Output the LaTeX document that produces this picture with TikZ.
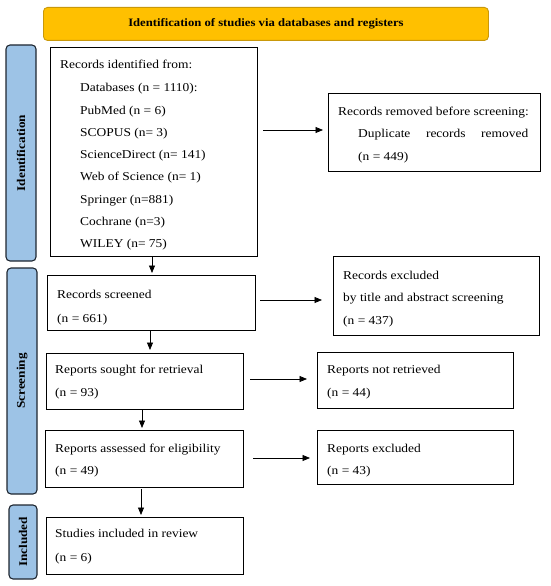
\documentclass[tikz,border=0pt]{standalone}
\usepackage{fontspec}
\setmainfont{Liberation Serif}[FakeStretch=1.12]
\usetikzlibrary{arrows.meta}
\definecolor{gold}{HTML}{FFC000}
\definecolor{goldline}{HTML}{C9980A}
\definecolor{lblue}{HTML}{9DC3E6}
\definecolor{lline}{HTML}{1E2630}
\begin{document}
\begin{tikzpicture}[x=1pt,y=-1pt,
  box/.style={draw=black, line width=0.9pt, inner sep=0pt, outer sep=0pt, anchor=north west},
  txt/.style={inner sep=0pt, anchor=base west, font=\fontsize{12}{14}\selectfont},
  stage/.style={draw=lline, fill=lblue, line width=1.1pt, rounded corners=4pt, inner sep=0pt, outer sep=0pt, anchor=north west, minimum width=30pt},
  stagetxt/.style={rotate=90, font=\bfseries\fontsize{11.8}{13}\selectfont, inner sep=0pt},
  arr/.style={line width=0.8pt, -{Triangle[length=7.5pt,width=6pt]}}]
\useasboundingbox (0,0) rectangle (550,586);

% title
\node[draw=goldline, fill=gold, line width=0.9pt, rounded corners=4pt, anchor=north west, minimum width=445pt, minimum height=33pt, inner sep=0pt] (title) at (43,7) {};
\node[font=\bfseries\fontsize{11.3}{13}\selectfont, inner sep=0pt] (titletxt) at (title.center) {Identification of studies via databases and registers};

% stages
\node[stage, minimum height=216pt] (s1) at (6,45) {};
\node[stagetxt] (s1t) at (s1.center) {Identification};
\node[stage, minimum height=226pt] (s2) at (7,268) {};
\node[stagetxt] (s2t) at (s2.center) {Screening};
\node[stage, minimum height=74pt, minimum width=28pt] (s3) at (9,505) {};
\node[stagetxt] (s3t) at (s3.center) {Included};

% boxes
\node[box, minimum width=207pt, minimum height=209pt] (b1) at (50,47) {};
\node[box, minimum width=212pt, minimum height=78pt] (b2) at (328,93) {};
\node[box, minimum width=208pt, minimum height=55pt] (b3) at (47,275) {};
\node[box, minimum width=206pt, minimum height=79pt] (b4) at (333,256) {};
\node[box, minimum width=197pt, minimum height=56pt] (b5) at (46,353) {};
\node[box, minimum width=196pt, minimum height=56pt] (b6) at (317,352) {};
\node[box, minimum width=198pt, minimum height=57pt] (b7) at (45,430) {};
\node[box, minimum width=196pt, minimum height=54pt] (b8) at (317,430) {};
\node[box, minimum width=197pt, minimum height=57pt] (b9) at (46,517) {};

% texts b1
\node[txt] (t1a) at (60,69) {Records identified from:};
\node[txt] (t1b) at (80,92) {Databases (n = 1110):};
\node[txt] (t1c) at (80,114) {PubMed (n = 6)};
\node[txt] (t1d) at (80,136) {SCOPUS (n= 3)};
\node[txt] (t1e) at (80,158) {ScienceDirect (n= 141)};
\node[txt] (t1f) at (80,180) {Web of Science (n= 1)};
\node[txt] (t1g) at (80,203) {Springer (n=881)};
\node[txt] (t1h) at (80,225) {Cochrane (n=3)};
\node[txt] (t1i) at (80,247) {WILEY (n= 75)};
% b2
\node[txt] (t2a) at (338,115) {Records removed before screening:};
\node[txt] (t2b) at (358,137) {\makebox[170pt][s]{Duplicate\hfill records\hfill removed}};
\node[txt] (t2c) at (358,160) {(n = 449)};
% b3
\node[txt] (t3a) at (57,298) {Records screened};
\node[txt] (t3b) at (57,322) {(n = 661)};
% b4
\node[txt] (t4a) at (343,279) {Records excluded};
\node[txt] (t4b) at (343,301) {by title and abstract screening};
\node[txt] (t4c) at (343,324) {(n = 437)};
% b5
\node[txt] (t5a) at (55,373) {Reports sought for retrieval};
\node[txt] (t5b) at (55,396) {(n = 93)};
% b6
\node[txt] (t6a) at (327,373) {Reports not retrieved};
\node[txt] (t6b) at (327,396) {(n = 44)};
% b7
\node[txt] (t7a) at (55,452) {Reports assessed for eligibility};
\node[txt] (t7b) at (55,474) {(n = 49)};
% b8
\node[txt] (t8a) at (327,452) {Reports excluded};
\node[txt] (t8b) at (327,474) {(n = 43)};
% b9
\node[txt] (t9a) at (55,537) {Studies included in review};
\node[txt] (t9b) at (55,561) {(n = 6)};

% arrows down
\draw[arr, shorten >=2pt] (b1.south -| 152,0) -- (b3.north -| 152,0);
\draw[arr, shorten >=3pt] (b3.south -| 150,0) -- (b5.north -| 150,0);
\draw[arr, shorten >=2pt] (b5.south -| 142,0) -- (b7.north -| 142,0);
\draw[arr, shorten <=2pt, shorten >=2pt] (b7.south -| 141,0) -- (b9.north -| 141,0);
% arrows right
\draw[arr, shorten <=6pt, shorten >=5pt] (b1.east |- 0,130) -- (b2.west |- 0,130);
\draw[arr, shorten <=5pt, shorten >=11pt] (b3.east |- 0,300) -- (b4.west |- 0,300);
\draw[arr, shorten <=7pt, shorten >=10pt] (b5.east |- 0,379) -- (b6.west |- 0,379);
\draw[arr, shorten <=10pt, shorten >=7pt] (b7.east |- 0,458) -- (b8.west |- 0,458);
\end{tikzpicture}
\end{document}
